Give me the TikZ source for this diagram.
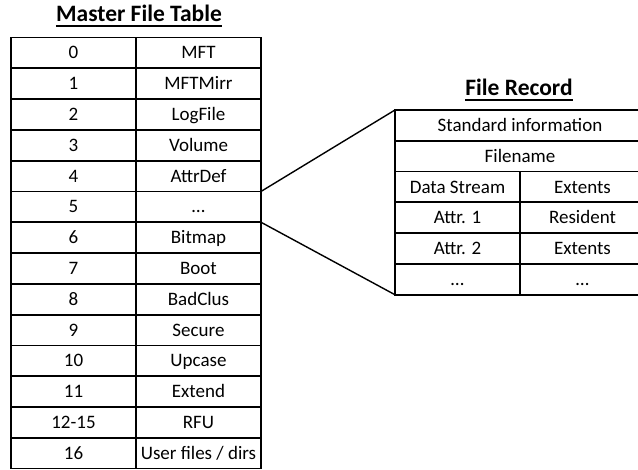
\documentclass[tikz,border=0pt]{standalone}
\usepackage{fontspec}
\setmainfont{Carlito}
\usetikzlibrary{positioning}
\begin{document}
\begin{tikzpicture}[x=1pt,y=-1pt,
  cell/.style={draw, line width=1.8pt, inner sep=0pt, outer sep=0pt,
    minimum height=30.79pt, text height=12.2pt, text depth=0pt,
    font=\fontsize{19}{22}\selectfont},
  half/.style={cell, minimum width=125pt},
  full/.style={cell, minimum width=250pt},
  heading/.style={inner sep=0pt, anchor=base, font=\fontsize{23.5}{27}\selectfont\bfseries},
  underln/.style={line width=1.5pt},
  link/.style={line width=1.4pt}]
\useasboundingbox (0,0) rectangle (638,470);
\clip (0,0) rectangle (638,470);

% Master File Table
\node[heading] (mfttitle) at (139,22) {Master File Table};
\draw[underln] ([yshift=-4pt]mfttitle.base west) -- ([yshift=-4pt]mfttitle.base east);

\node[half] (m0) at (73.5,52.9) {0};
\node[half, right=0pt of m0] (n0) {MFT};
\node[half, below=0pt of m0] (m1) {1};
\node[half, right=0pt of m1] (n1) {MFTMirr};
\node[half, below=0pt of m1] (m2) {2};
\node[half, right=0pt of m2] (n2) {LogFile};
\node[half, below=0pt of m2] (m3) {3};
\node[half, right=0pt of m3] (n3) {Volume};
\node[half, below=0pt of m3] (m4) {4};
\node[half, right=0pt of m4] (n4) {AttrDef};
\node[half, below=0pt of m4] (m5) {5};
\node[half, right=0pt of m5] (n5) {\dots};
\node[half, below=0pt of m5] (m6) {6};
\node[half, right=0pt of m6] (n6) {Bitmap};
\node[half, below=0pt of m6] (m7) {7};
\node[half, right=0pt of m7] (n7) {Boot};
\node[half, below=0pt of m7] (m8) {8};
\node[half, right=0pt of m8] (n8) {BadClus};
\node[half, below=0pt of m8] (m9) {9};
\node[half, right=0pt of m9] (n9) {Secure};
\node[half, below=0pt of m9] (m10) {10};
\node[half, right=0pt of m10] (n10) {Upcase};
\node[half, below=0pt of m10] (m11) {11};
\node[half, right=0pt of m11] (n11) {Extend};
\node[half, below=0pt of m11] (m12) {12-15};
\node[half, right=0pt of m12] (n12) {RFU};
\node[half, below=0pt of m12] (m13) {16};
\node[half, right=0pt of m13] (n13) {User files / dirs};

% File Record
\node[heading] (frtitle) at (519,96) {File Record};
\draw[underln] ([yshift=-4pt]frtitle.base west) -- ([yshift=-4pt]frtitle.base east);

\node[full] (f0) at (520,125.4) {Standard information};
\node[full, below=0pt of f0] (f1) {Filename};
\node[half, anchor=north west] (fa2) at (f1.south west) {Data Stream};
\node[half, right=0pt of fa2] (fb2) {Extents};
\node[half, below=0pt of fa2] (fa3) {Attr. 1};
\node[half, right=0pt of fa3] (fb3) {Resident};
\node[half, below=0pt of fa3] (fa4) {Attr. 2};
\node[half, right=0pt of fa4] (fb4) {Extents};
\node[half, below=0pt of fa4] (fa5) {\dots};
\node[half, right=0pt of fa5] (fb5) {\dots};

% zoom lines from entry 5 to the record
\draw[link] (n5.north east) -- (f0.north west);
\draw[link] (n5.south east) -- (fa5.south west);
\end{tikzpicture}
\end{document}
